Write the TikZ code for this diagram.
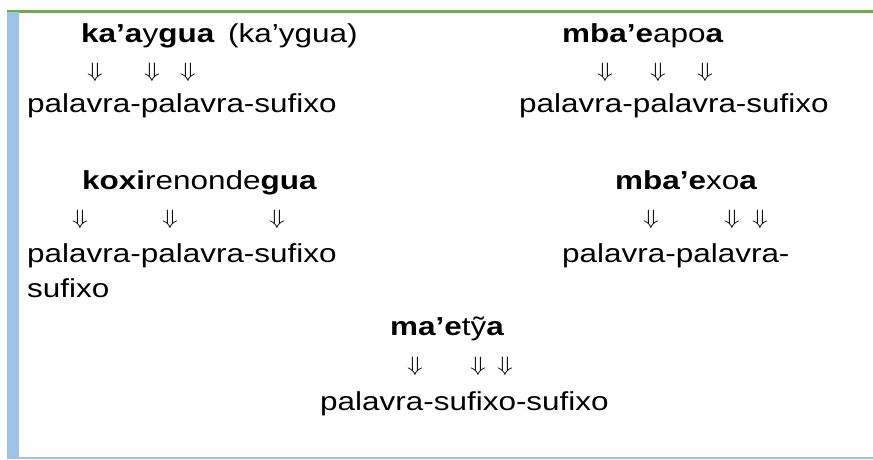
\documentclass[tikz,border=0pt]{standalone}
\usepackage{fontspec}
\setmainfont[FakeStretch=1.21]{Liberation Sans}
\definecolor{topgreen}{HTML}{70AD47}
\definecolor{sideblue}{HTML}{9DC3E6}
\tikzset{
  txt/.style={inner sep=0pt, anchor=base west, font=\fontsize{26}{31}\selectfont},
  arr/.style={inner sep=0pt, anchor=center, font=\fontsize{20}{20}\selectfont},
}
\newcommand{\dnarrow}{\scalebox{1.25}[1]{$\Downarrow$}}
\begin{document}
\begin{tikzpicture}[x=1pt, y=-1pt]
\useasboundingbox (0,0) rectangle (873,459);
% frame
\fill[topgreen] (7,10) rectangle (873,13);
\fill[sideblue] (7,12) rectangle (19,459);
\fill[sideblue] (7,456.5) rectangle (873,459);
% block 1
\node[txt] (t1a) at (81,42) {\textbf{ka’a}y\textbf{gua}};
\node[txt] (t1b) at (228,42) {(ka’ygua)};
\node[arr] (a11) at (95,72) {\dnarrow};
\node[arr] (a12) at (152,72) {\dnarrow};
\node[arr] (a13) at (188,72) {\dnarrow};
\node[txt] (p1) at (27,112) {palavra-palavra-sufixo};
% block 2
\node[txt] (t2) at (562,42) {\textbf{mba’e}apo\textbf{a}};
\node[arr] (a21) at (605,72) {\dnarrow};
\node[arr] (a22) at (658,72) {\dnarrow};
\node[arr] (a23) at (705,72) {\dnarrow};
\node[txt] (p2) at (519,112) {palavra-palavra-sufixo};
% block 3
\node[txt] (t3) at (82,189) {\textbf{koxi}renonde\textbf{gua}};
\node[arr] (a31) at (80,219) {\dnarrow};
\node[arr] (a32) at (170,219) {\dnarrow};
\node[arr] (a33) at (277,219) {\dnarrow};
\node[txt] (p3) at (27,262) {palavra-palavra-sufixo};
\node[txt] (s3) at (27,297) {sufixo};
% block 4
\node[txt] (t4) at (615,189) {\textbf{mba’e}xo\textbf{a}};
\node[arr] (a41) at (651,219) {\dnarrow};
\node[arr] (a42) at (732,219) {\dnarrow};
\node[arr] (a43) at (760,219) {\dnarrow};
\node[txt] (p4) at (562,262) {palavra-palavra-};
% block 5
\node[txt] (t5) at (390,335) {\textbf{ma’e}tỹ\textbf{a}};
\node[arr] (a51) at (415,366) {\dnarrow};
\node[arr] (a52) at (478,366) {\dnarrow};
\node[arr] (a53) at (505,366) {\dnarrow};
\node[txt] (p5) at (320,410) {palavra-sufixo-sufixo};
\end{tikzpicture}
\end{document}
